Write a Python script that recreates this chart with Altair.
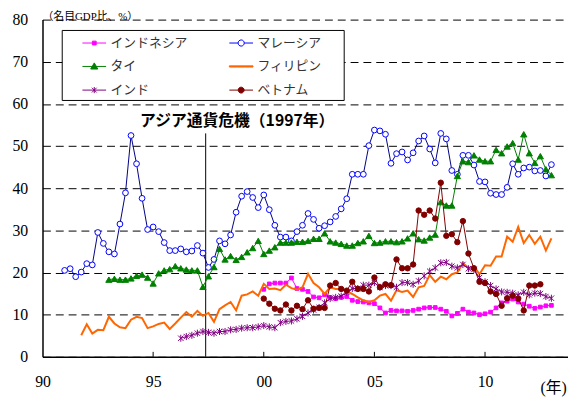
import altair as alt
import pandas as pd

# ---------------- data (quarterly) ----------------
series_names = ["インドネシア", "マレーシア", "タイ", "フィリピン", "インド", "ベトナム"]
# legend order (filled column by column)
legend_order = ["インドネシア", "タイ", "インド", "マレーシア", "フィリピン", "ベトナム"]
# quarter index 0 = first Malaysia observation (1991)
base_year = 1991.0

malaysia_start = 0
malaysia = [20.5, 20.9, 19.0, 20.1, 22.1, 21.8, 29.5, 26.9, 24.9, 24.4,
            31.5, 38.9, 52.5, 45.8, 37.6, 30.2, 30.8, 29.7, 27.1, 25.2,
            25.2, 25.6, 24.9, 25.1, 26.4, 24.6, 21.2, 23.1, 27.5, 26.8,
            28.9, 34.3, 38.1, 39.2, 37.8, 35.4, 38.4, 34.9, 31.2, 28.4,
            28.4, 27.5, 29.7, 31.2, 34.0, 32.6, 30.5, 31.1, 32.0, 33.3,
            35.1, 37.5, 43.3, 43.3, 43.3, 50.1, 53.8, 53.6, 52.8, 45.9,
            48.2, 48.6, 46.7, 48.4, 51.2, 52.4, 49.3, 46.0, 53.0, 51.7,
            44.2, 43.3, 47.8, 47.8, 45.5, 41.6, 41.5, 38.8, 38.5, 38.5,
            40.2, 45.8, 43.3, 44.8, 45.0, 44.1, 44.2, 42.9, 45.6]

thai_start = 8
thai = [18.3, 18.5, 18.3, 18.3, 18.6, 19.2, 19.5, 18.8, 17.4, 19.8,
        20.5, 20.8, 21.5, 21.0, 20.7, 20.5, 20.5, 16.6, 19.1, 21.3,
        25.6, 23.1, 23.9, 23.0, 23.7, 24.8, 25.8, 27.5, 24.4, 25.2,
        26.0, 27.1, 27.1, 27.1, 27.3, 27.3, 27.5, 28.0, 28.0, 29.3,
        27.4, 27.1, 26.8, 26.4, 26.4, 27.0, 27.4, 28.7, 27.0, 27.1,
        27.4, 27.4, 27.2, 27.4, 28.1, 29.3, 27.9, 27.6, 28.3, 29.0,
        36.7, 35.9, 35.9, 42.9, 46.4, 46.2, 47.8, 46.8, 46.4, 46.4,
        49.1, 48.3, 49.9, 50.7, 46.8, 52.8, 48.3, 46.0, 47.6, 44.5,
        43.1]

philippines_start = 3
philippines = [5.1, 7.7, 5.5, 6.4, 6.3, 9.5, 7.9,
               7.0, 6.8, 8.8, 9.5, 9.2, 6.8, 7.2, 7.8, 8.1, 6.6,
               7.9, 9.3, 10.6, 9.5, 10.9, 9.7, 10.4, 8.3, 11.3, 12.2,
               13.0, 11.0, 14.5, 14.8, 15.5, 14.5, 17.3, 16.1, 16.2, 15.8,
               17.1, 16.3, 15.9, 16.5, 19.7, 17.5, 16.5, 14.9, 16.5, 16.1,
               16.1, 15.5, 14.9, 14.1, 13.4, 13.0, 13.4, 14.5, 14.9, 13.3,
               15.8, 15.4, 15.7, 14.2, 16.5, 16.8, 19.4, 17.8, 19.0, 18.4,
               19.6, 20.0, 22.2, 21.1, 21.5, 19.6, 21.7, 21.6, 23.8, 23.8,
               28.5, 27.3, 30.8, 27.0, 28.9, 26.8, 28.5, 25.2, 28.1]

india_start = 21
india = [4.4, 4.8, 5.1, 5.6, 6.0, 5.8, 5.6, 6.0, 6.0,
         6.4, 6.5, 6.8, 6.9, 6.9, 7.1, 7.4, 7.1, 6.9, 8.1,
         8.4, 8.5, 9.0, 9.6, 10.4, 11.1, 11.7, 12.8, 13.8, 14.1,
         14.4, 15.3, 16.2, 16.2, 17.0, 17.0, 17.6, 16.5, 16.9, 16.9,
         16.5, 17.6, 17.6, 17.2, 18.0, 19.2, 20.3, 21.1, 22.3, 22.4,
         21.5, 21.1, 21.9, 20.9, 20.7, 18.8, 17.8, 16.9, 16.1, 15.4,
         15.3, 15.1, 14.7, 15.3, 14.7, 15.1, 15.0, 14.3, 13.9]

indonesia_start = 36
indonesia = [16.0, 17.3, 17.5, 17.5, 17.5, 18.7, 16.2, 16.0, 15.5, 14.2,
             14.0, 14.7, 14.1, 13.8, 14.1, 14.3, 13.4, 13.1, 13.0, 12.8,
             12.6, 11.6, 10.4, 11.0, 10.9, 10.9, 10.8, 11.0, 11.3, 11.6,
             11.7, 11.7, 11.3, 10.8, 9.7, 10.3, 11.3, 10.6, 10.4, 10.0,
             10.2, 10.6, 11.6, 12.8, 13.2, 13.7, 13.0, 12.5, 12.0, 11.5,
             11.8, 12.1, 12.2]

vietnam_start = 36
vietnam = [13.8, 12.6, 11.4, 11.0, 12.4, 11.0, 12.1, 11.3, 13.4, 11.4,
           11.6, 11.6, 16.9, 17.5, 16.1, 15.7, 17.8, 16.1, 16.1, 15.5,
           18.8, 16.5, 17.2, 17.0, 23.1, 21.0, 21.0, 21.9, 34.7, 33.7,
           34.7, 32.8, 41.3, 28.7, 29.1, 27.2, 32.2, 24.5, 21.0, 17.8,
           17.5, 15.5, 14.9, 12.1, 13.9, 14.5, 13.8, 11.0, 16.9, 16.9,
           17.2]

x_tick_years = [1990, 1995, 2000, 2005, 2010]
inner_tick_years = [1995, 2000, 2005, 2010]
y_ticks = [0, 10, 20, 30, 40, 50, 60, 70, 80]

crisis_year = [1997.375]
crisis_top = [53.0]
crisis_label = ["アジア通貨危機（1997年）"]
crisis_label_pos = [1998.8]
crisis_label_val = [55.9]

unit_label = "（名目GDP比、%）"
year_label = "(年)"

# ---------------- build table ----------------
series_data = [
    ("インドネシア", indonesia_start, indonesia),
    ("マレーシア", malaysia_start, malaysia),
    ("タイ", thai_start, thai),
    ("フィリピン", philippines_start, philippines),
    ("インド", india_start, india),
    ("ベトナム", vietnam_start, vietnam),
]
rows = []
for name, start, vals in series_data:
    for i, v in enumerate(vals):
        rows.append({"series": name, "t": base_year + 0.25 * (start + i), "value": v})
df = pd.DataFrame(rows)

# ---------------- styles ----------------
line_colors = {"インドネシア": "#FF00FF", "マレーシア": "#000080", "タイ": "#008000",
               "フィリピン": "#FF6600", "インド": "#800080", "ベトナム": "#800000"}
line_widths = {"インドネシア": 1, "マレーシア": 1, "タイ": 1,
               "フィリピン": 2, "インド": 1, "ベトナム": 1}
asterisk = "M-1,-1L1,1M-1,1L1,-1M0,-1.3L0,1.3"
point_styles = {
    "インドネシア": dict(shape="square", filled=True, fill="#FF00FF", stroke="#FF00FF", size=14),
    "マレーシア": dict(shape="circle", filled=True, fill="white", stroke="#0000FF", size=34),
    "タイ": dict(shape="triangle-up", filled=True, fill="#008000", stroke="#008000", size=40),
    "インド": dict(shape=asterisk, filled=False, stroke="#800080", size=30),
    "ベトナム": dict(shape="circle", filled=True, fill="#800000", stroke="#800000", size=30),
}

serif = "Liberation Serif, Noto Sans CJK JP"
jp = "Noto Sans CJK JP"

x_axis = alt.Axis(values=x_tick_years, format="d", labelExpr="substring(datum.label, 2, 4)",
                  grid=False, ticks=False, domain=True, domainColor="black", domainWidth=1.5,
                  labelFont=serif, labelFontSize=16, labelColor="black", labelPadding=17,
                  labelFlush=False, labelOverlap=False, title=None)
y_axis = alt.Axis(values=y_ticks, grid=True, gridDash=[8, 5], gridColor="black", gridWidth=1,
                  gridOpacity=1, ticks=False, domain=True, domainColor="black", domainWidth=1.5,
                  labelFont=serif, labelFontSize=16, labelColor="black", labelPadding=15,
                  labelOverlap=False, title=None)
X = alt.X("t:Q", scale=alt.Scale(domain=[1990, 2013.75], nice=False, zero=False), axis=x_axis)
Y = alt.Y("value:Q", scale=alt.Scale(domain=[0, 80], nice=False), axis=y_axis)

one = pd.DataFrame({"a": [0]})

# legend box frame
box = alt.Chart(one).mark_rect(fill="white", stroke="black", strokeWidth=1).encode(
    x=alt.value(20), x2=alt.value(306), y=alt.value(11), y2=alt.value(82))

crisis_df = pd.DataFrame({"t": crisis_year, "value": [0.0], "value2": crisis_top})
crisis_rule = alt.Chart(crisis_df).mark_rule(color="black", strokeWidth=1).encode(
    x=X, y=Y, y2="value2:Q")
ann_df = pd.DataFrame({"t": crisis_label_pos, "value": crisis_label_val, "label": crisis_label})
ann = alt.Chart(ann_df).mark_text(font=jp, fontSize=16, fontWeight="bold", color="black",
                                  align="center", baseline="middle").encode(x=X, y=Y, text="label:N")

layers = [box, crisis_rule, ann]
for name in series_names:
    sub = alt.Chart(df).transform_filter(alt.datum.series == name)
    layers.append(sub.mark_line(color=line_colors[name], strokeWidth=line_widths[name]).encode(x=X, y=Y))
    if name in point_styles:
        st = point_styles[name]
        kw = dict(shape=st["shape"], filled=st["filled"], stroke=st["stroke"], size=st["size"],
                  strokeWidth=1, opacity=1)
        if "fill" in st:
            kw["fill"] = st["fill"]
        layers.append(sub.mark_point(**kw).encode(x=X, y=Y))

tick_df = pd.DataFrame({"t": inner_tick_years})
ticks = alt.Chart(tick_df).mark_rule(color="black", strokeWidth=1).encode(
    x=X, y=alt.value(342), y2=alt.value(337))
layers.append(ticks)

unit_txt = alt.Chart(one).mark_text(text=unit_label, font=serif, fontSize=11, color="black",
                                    align="left", baseline="alphabetic").encode(
    x=alt.value(0), y=alt.value(0.5))
year_txt = alt.Chart(one).mark_text(text=year_label, font=serif, fontSize=16, color="black",
                                    align="left", baseline="middle").encode(
    x=alt.value(505), y=alt.value(374))
layers += [unit_txt, year_txt]

# legend (symbols drawn from scales)
leg_paths_by_name = {
    "インドネシア": "M-1,0H1M-0.16,-0.16H0.16V0.16H-0.16Z",
    "マレーシア": "M-1,0H-0.26M0.26,0H1M-0.26,0A0.26,0.26 0 1 1 0.26,0A0.26,0.26 0 1 1 -0.26,0Z",
    "タイ": "M-1,0H1M0,-0.3L0.3,0.22H-0.3Z",
    "フィリピン": "M-1,-0.05H1V0.05H-1Z",
    "インド": "M-1,0H1M-0.2,-0.2L0.2,0.2M-0.2,0.2L0.2,-0.2M0,-0.26V0.26",
    "ベトナム": "M-1,0H1M-0.25,0A0.25,0.25 0 1 1 0.25,0A0.25,0.25 0 1 1 -0.25,0Z",
}
leg_fill_by_name = {"インドネシア": "#FF00FF", "マレーシア": "white", "タイ": "#008000",
                    "フィリピン": "#FF6600", "インド": "#800080", "ベトナム": "#800000"}
leg_stroke_by_name = {"インドネシア": "#FF00FF", "マレーシア": "#0000FF", "タイ": "#008000",
                      "フィリピン": "#FF6600", "インド": "#800080", "ベトナム": "#800000"}
leg_paths = [leg_paths_by_name[n] for n in legend_order]
leg_fills = [leg_fill_by_name[n] for n in legend_order]
leg_strokes = [leg_stroke_by_name[n] for n in legend_order]

leg = alt.Legend(orient="none", legendX=40, legendY=11, columns=2, title=None, padding=0,
                 rowPadding=4, columnPadding=39, symbolSize=576, symbolStrokeWidth=1,
                 symbolOpacity=1, labelFont=jp, labelFontSize=13, labelColor="#333333",
                 labelOffset=4)
leg_df = pd.DataFrame({"series": legend_order})
legend_layer = alt.Chart(leg_df).mark_point(clip=True, opacity=1, filled=True).encode(
    x=alt.value(-200), y=alt.value(-200),
    shape=alt.Shape("series:N", scale=alt.Scale(domain=legend_order, range=leg_paths), legend=leg),
    fill=alt.Fill("series:N", scale=alt.Scale(domain=legend_order, range=leg_fills), legend=leg),
    stroke=alt.Stroke("series:N", scale=alt.Scale(domain=legend_order, range=leg_strokes), legend=leg),
)
layers.append(legend_layer)

chart = alt.layer(*layers).properties(
    width=533, height=342,
    autosize=alt.AutoSizeParams(type="none"),
    padding={"left": 35, "top": 9, "right": 0, "bottom": 38},
    background="white",
).configure_view(strokeWidth=0)

chart.save("out.html", embed_options={"renderer": "svg", "actions": False})
